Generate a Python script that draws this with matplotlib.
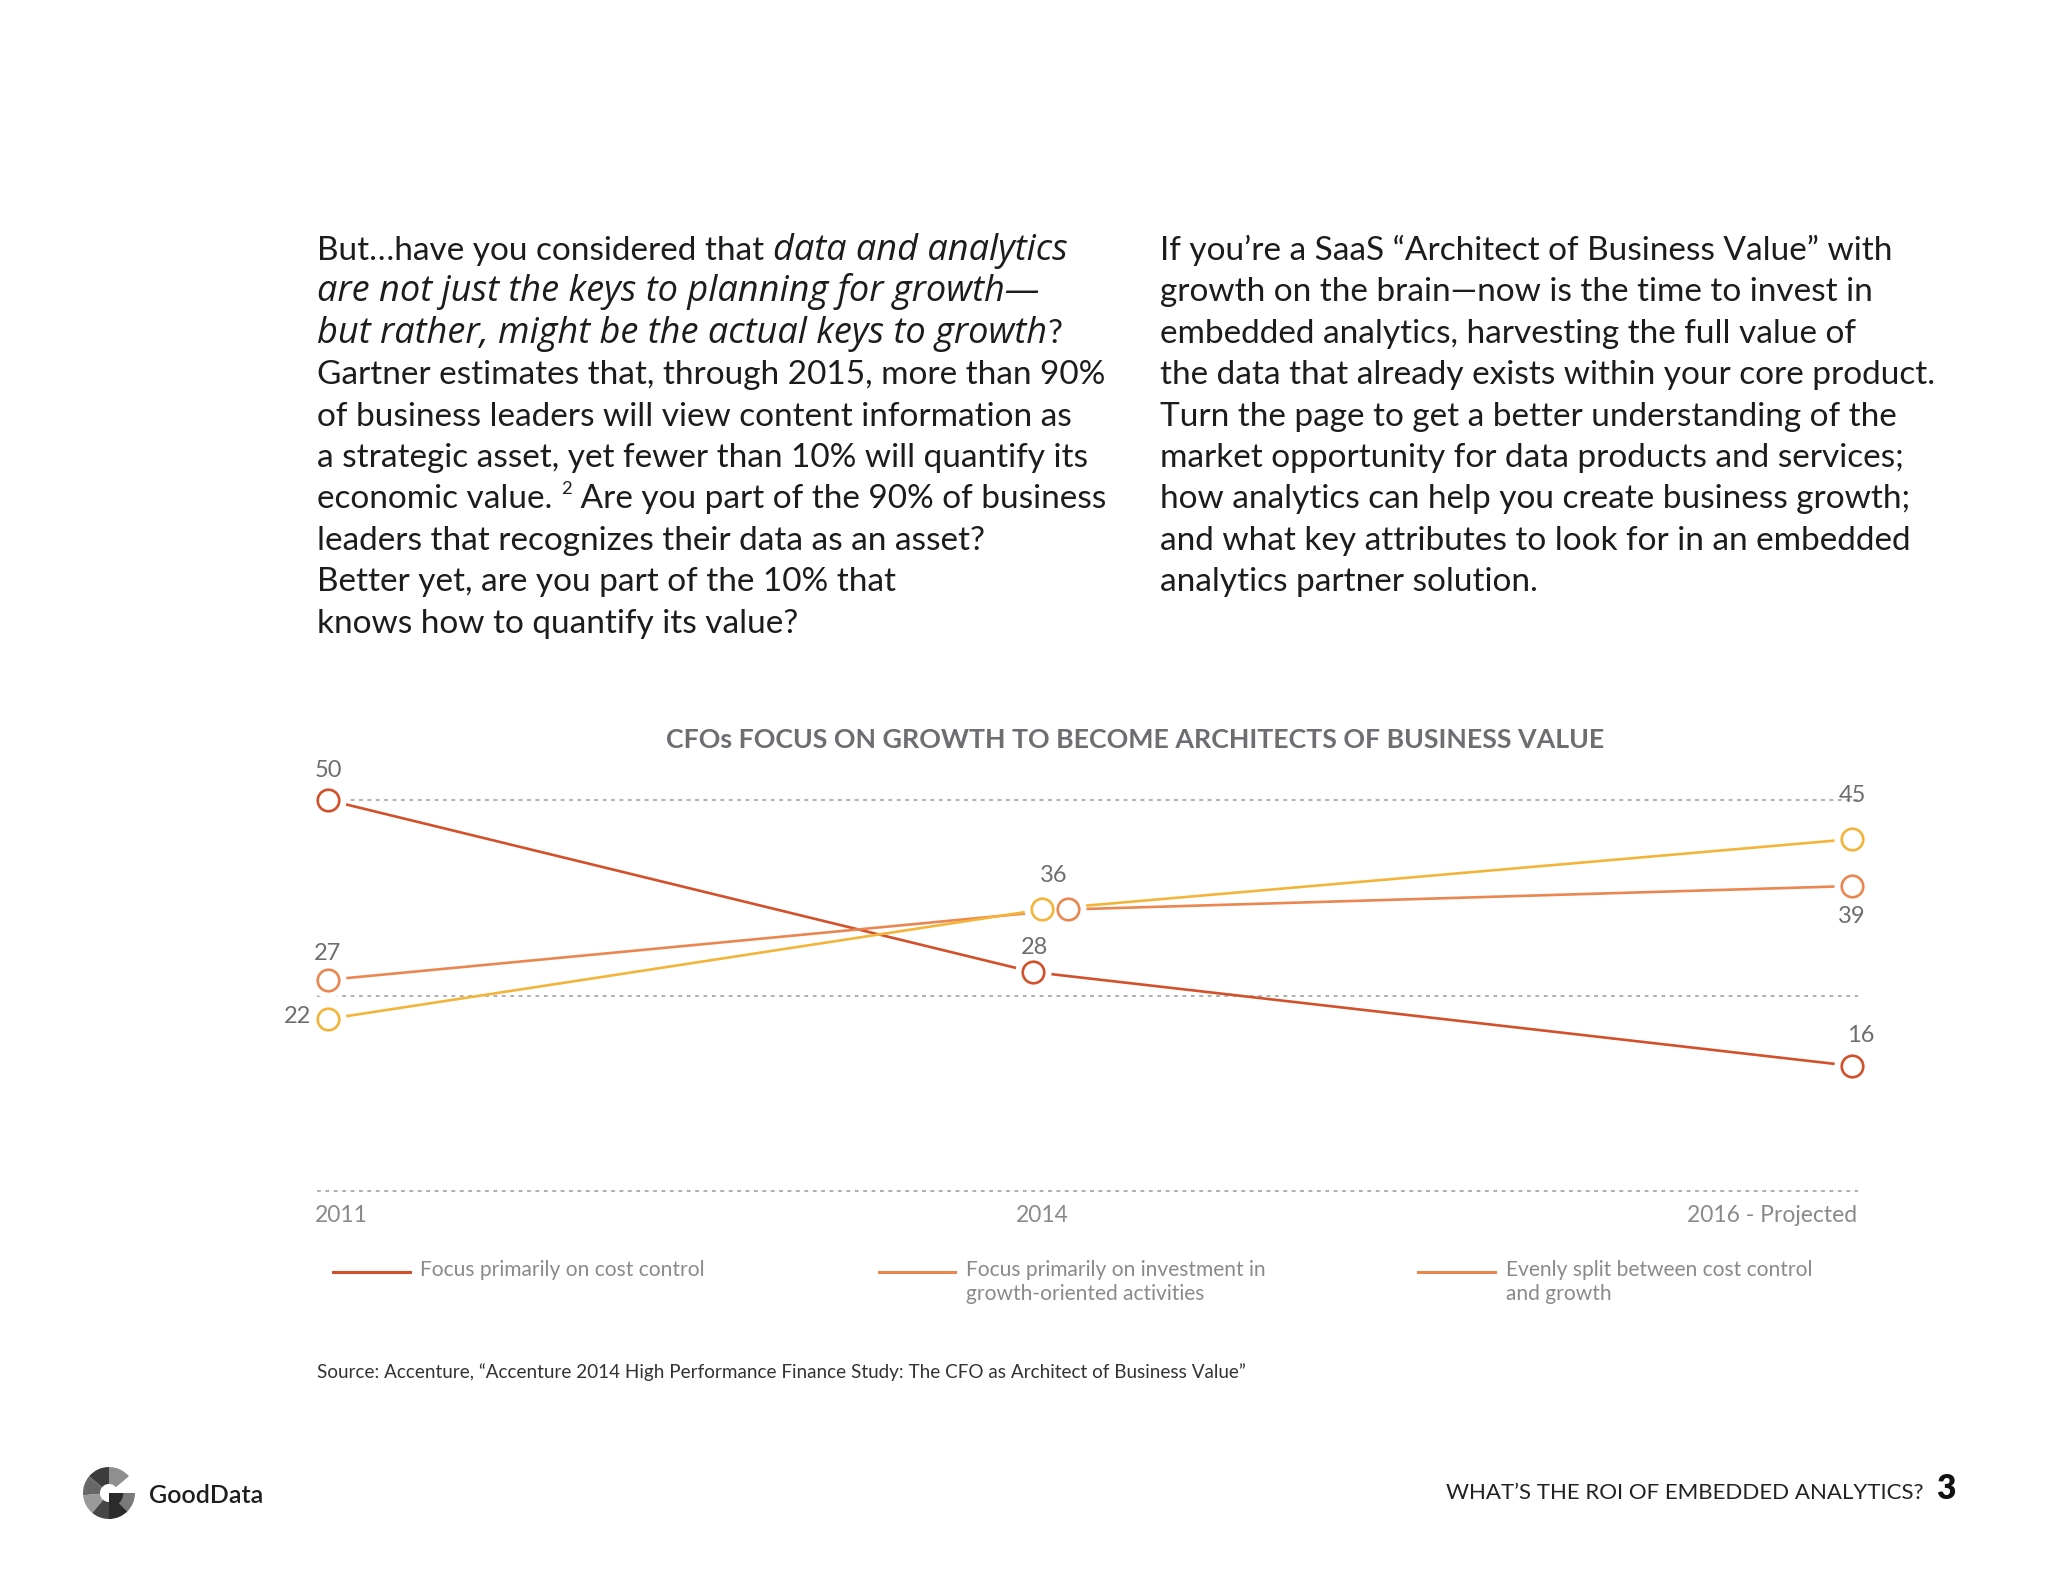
import numpy as np
import matplotlib
matplotlib.use("Agg")
import matplotlib.pyplot as plt
from matplotlib.patches import Wedge

plt.rcParams['font.family'] = ['Lato', 'DejaVu Sans']

# chart data
categories = ['2011', '2014', '2016 - Projected']
cost_control = [50, 28, 16]
growth_focus = [22, 36, 45]
even_split = [27, 36, 39]
legend_labels = ['Focus primarily on cost control',
                 'Focus primarily on investment in\ngrowth-oriented activities',
                 'Evenly split between cost control\nand growth']
chart_title = 'CFOs FOCUS ON GROWTH TO BECOME ARCHITECTS OF BUSINESS VALUE'
source = ('Source: Accenture, \u201cAccenture 2014 High Performance Finance Study: '
          'The CFO as Architect of Business Value\u201d')

# page text, (text, style) segments per line
left_par = [
    [('But\u2026have you considered that ', 'n'), ('data and analytics', 'i')],
    [('are not just the keys to planning for growth\u2014', 'i')],
    [('but rather, might be the actual keys to growth', 'i'), ('?', 'n')],
    [('Gartner estimates that, through 2015, more than 90%', 'n')],
    [('of business leaders will view content information as', 'n')],
    [('a strategic asset, yet fewer than 10% will quantify its', 'n')],
    [('economic value. ', 'n'), ('2', 'sup'), (' Are you part of the 90% of business', 'n')],
    [('leaders that recognizes their data as an asset?', 'n')],
    [('Better yet, are you part of the 10% that', 'n')],
    [('knows how to quantify its value?', 'n')],
]
right_par = [
    'If you\u2019re a SaaS \u201cArchitect of Business Value\u201d with',
    'growth on the brain\u2014now is the time to invest in',
    'embedded analytics, harvesting the full value of',
    'the data that already exists within your core product.',
    'Turn the page to get a better understanding of the',
    'market opportunity for data products and services;',
    'how analytics can help you create business growth;',
    'and what key attributes to look for in an embedded',
    'analytics partner solution.',
]

RED = '#d2502a'
ORANGE = '#ea8650'
YELLOW = '#f3b43a'
GRAY = '#6d6e71'
LGRAY = '#8a8a8a'
INK = '#1c1c1c'

fig = plt.figure(figsize=(20.48, 15.82), dpi=100)
page = fig.add_axes([0, 0, 1, 1])
page.set_xlim(0, 2048)
page.set_ylim(1582, 0)
page.axis('off')
renderer = fig.canvas.get_renderer()

PSIZE = 24
IFAM = ['Open Sans', 'DejaVu Sans']

# size the italic face so the second line spans like the original (~722 px)
probe = page.text(0, 0, left_par[1][0][0], fontsize=24, family=IFAM, style='italic')
w = probe.get_window_extent(renderer).width
probe.remove()
ISIZE = min(max(24 * 722 / w, 20), 26)


def draw_line(x, y, segs):
    for txt, st in segs:
        if st == 'sup':
            t = page.text(x, y - 14, txt, fontsize=PSIZE * 0.55, color=INK, va='baseline')
        elif st == 'i':
            t = page.text(x, y, txt, fontsize=ISIZE, color=INK, va='baseline',
                          style='italic', family=IFAM)
        else:
            t = page.text(x, y, txt, fontsize=PSIZE, color=INK, va='baseline')
        x = t.get_window_extent(renderer).x1


for i, segs in enumerate(left_par):
    draw_line(317, 260 + i * 41.4, segs)
for i, line in enumerate(right_par):
    page.text(1160, 260 + i * 41.4, line, fontsize=PSIZE, color=INK, va='baseline')

# chart
ax = fig.add_axes([317 / 2048, 1 - 1191 / 1582, (1858 - 317) / 2048, 391 / 1582])
ax.set_xlim(-0.0144, 2.0079)
ax.set_ylim(0, 50)
ax.axis('off')
ax.patch.set_alpha(0)

for yv in [0, 25, 50]:
    ax.axhline(yv, color='#9a9a9a', lw=1.1, ls=(0, (2.5, 3)), clip_on=False, zorder=1)

xpos = np.array([0, 0.937, 2])
series = [(cost_control, RED, -0.012), (even_split, ORANGE, 0.034), (growth_focus, YELLOW, 0.0)]
for vals, col, dx in series:
    xs = xpos + np.array([0, dx, 0])
    ax.plot(xs, vals, color=col, lw=1.9, zorder=2, clip_on=False)
for vals, col, dx in series:
    xs = xpos + np.array([0, dx, 0])
    ax.plot(xs, vals, ls='none', marker='o', ms=25, mfc='white', mec='white', zorder=3, clip_on=False)
for vals, col, dx in series:
    xs = xpos + np.array([0, dx, 0])
    ax.plot(xs, vals, ls='none', marker='o', ms=15.5, mfc='white', mec=col, mew=1.9, zorder=4,
            clip_on=False)

# value labels (offsets in pixels)
lab = [(0, cost_control[0], 0, 30, 'center'), (0, even_split[0], 0, 26, 'center'),
       (0, growth_focus[0], -17, 2, 'right'),
       (0.925, cost_control[1], 2, 25, 'center'), (0.953, growth_focus[1], 0, 34, 'center'),
       (2, growth_focus[2], 0, 44, 'center'), (2, even_split[2], 0, -30, 'center'),
       (2, cost_control[2], 9, 30, 'center')]
for x, v, ox, oy, ha in lab:
    ax.annotate(str(v), (x, v), xytext=(ox, oy), textcoords='offset pixels', ha=ha,
                va='center', fontsize=17, color=GRAY, annotation_clip=False)

page.text(1135, 748, chart_title, fontsize=19.3, fontweight='bold', color=GRAY, ha='center',
          va='baseline')
page.text(315, 1222, categories[0], fontsize=16.5, color=LGRAY, va='baseline', ha='left')
page.text(1042, 1222, categories[1], fontsize=16.5, color=LGRAY, va='baseline', ha='center')
page.text(1857, 1222, categories[2], fontsize=16.5, color=LGRAY, va='baseline', ha='right')

# legend
leg_x = [(333, 410, 420, RED), (879, 955, 966, ORANGE), (1418, 1495, 1506, ORANGE)]
for (x0, x1, tx, col), lbl in zip(leg_x, legend_labels):
    page.plot([x0, x1], [1272, 1272], color=col, lw=2.2)
    page.text(tx, 1260, lbl, fontsize=15.1, color=LGRAY, va='top', ha='left',
              linespacing=1.28)

page.text(317, 1378, source, fontsize=13.6, color='#333333', va='baseline')

# footer logo
cx, cy, r = 109, 1493, 26
ring = [(40, 90, '#8f8f8f'), (90, 140, '#3c3c3c'), (140, 185, '#676767'),
        (185, 230, '#9a9a9a'), (230, 270, '#474747')]
for a1, a2, col in ring:
    page.add_patch(Wedge((cx, cy), r, -a2, -a1, width=17, color=col, lw=0))
page.add_patch(Wedge((cx, cy), r, 0, 45, color='#7a7a7a', lw=0))
page.add_patch(Wedge((cx, cy), r, 45, 90, color='#2c2c2c', lw=0))
page.add_patch(Wedge((cx, cy), r * 0.55, 0, 90, color='#2a2a2a', lw=0))
page.text(149, 1503, 'GoodData', fontsize=18, fontweight='semibold', color='#1e1e1e',
          va='baseline')
page.text(1924, 1499, 'WHAT\u2019S THE ROI OF EMBEDDED ANALYTICS?', fontsize=16,
          color='#222222', va='baseline', ha='right')
page.text(1936, 1499, '3', fontsize=24, fontweight='heavy', color='#111111', va='baseline')

fig.savefig('out.png', dpi=100, facecolor='white')
